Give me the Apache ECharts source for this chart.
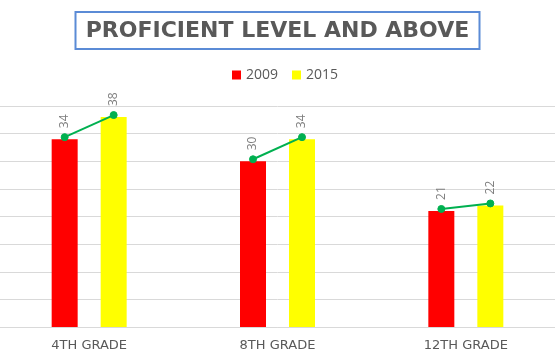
<!DOCTYPE html>
<html><head><meta charset="utf-8">
<script src="https://cdn.jsdelivr.net/npm/echarts@6/dist/echarts.min.js"></script>
<style>html,body{margin:0;padding:0;background:#fff;overflow:hidden}#c{position:absolute;left:-5px;top:0;width:565px;height:360px}</style>
</head><body><div id="c"></div>
<script>
const categories = ['4TH GRADE', '8TH GRADE', '12TH GRADE'];
const values2009 = [34, 30, 21];
const values2015 = [38, 34, 22];
const seriesNames = ['2009', '2015'];

const BAR_W = 26, GAP_PX = 23;
const chart = echarts.init(document.getElementById('c'), null, {renderer: 'canvas'});
const labelStyle = {
  show: true, position: 'top', rotate: 90, align: 'left', verticalAlign: 'middle',
  distance: 11, color: '#7f7f7f', fontSize: 12, fontFamily: 'Open Sans'
};
chart.setOption({
  animation: false,
  title: {
    text: 'PROFICIENT LEVEL AND ABOVE', left: 'center', top: 12,
    padding: [8, 10, 7, 10], borderColor: '#5b8bd6', borderWidth: 2,
    textStyle: {color: '#595959', fontSize: 22, fontWeight: 'bold', fontFamily: 'DejaVu Sans'}
  },
  legend: {
    top: 63, left: 232, itemWidth: 9, itemHeight: 9, itemGap: 14,
    icon: 'rect', data: seriesNames,
    textStyle: {color: '#595959', fontSize: 14, fontFamily: 'Open Sans'}
  },
  grid: {left: 0, right: 0, top: 106, bottom: 33, containLabel: false},
  xAxis: {
    type: 'category', data: categories,
    axisLine: {lineStyle: {color: '#d9d9d9'}}, axisTick: {show: false},
    axisLabel: {color: '#595959', fontSize: 13, fontFamily: 'DejaVu Sans', margin: 12}
  },
  yAxis: {
    type: 'value', min: 0, max: 40, interval: 5,
    axisLabel: {show: false}, axisLine: {show: false}, axisTick: {show: false},
    splitLine: {lineStyle: {color: '#d9d9d9'}}
  },
  series: [
    {name: '2009', type: 'bar', data: values2009, barWidth: BAR_W, barGap: (GAP_PX / BAR_W * 100) + '%',
     itemStyle: {color: '#ff0000'}, label: labelStyle},
    {name: '2015', type: 'bar', data: values2015, barWidth: BAR_W,
     itemStyle: {color: '#ffff00'}, label: labelStyle},
    {type: 'custom', z: 5,
     data: categories.map((c, i) => [i, values2009[i], values2015[i]]),
     renderItem: function (params, api) {
       const i = api.value(0);
       const off = (BAR_W + GAP_PX) / 2;
       const a = api.coord([i, api.value(1)]);
       const b = api.coord([i, api.value(2)]);
       const p1 = [a[0] - off, a[1] - 2], p2 = [b[0] + off, b[1] - 2];
       const st = {fill: '#00b050', stroke: '#00b050'};
       return {type: 'group', children: [
         {type: 'line', shape: {x1: p1[0], y1: p1[1], x2: p2[0], y2: p2[1]}, style: {stroke: '#00b050', lineWidth: 2}},
         {type: 'circle', shape: {cx: p1[0], cy: p1[1], r: 3.5}, style: st},
         {type: 'circle', shape: {cx: p2[0], cy: p2[1], r: 3.5}, style: st}
       ]};
     }}
  ]
});
</script></body></html>
